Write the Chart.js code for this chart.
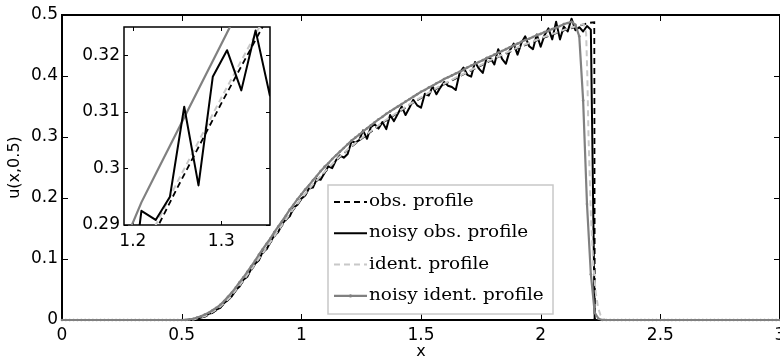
<!DOCTYPE html>
<html lang="en">
<head>
<meta charset="UTF-8" />
<title>u(x,0.5) profiles</title>
<script src="https://cdn.jsdelivr.net/npm/chart.js"></script>
<style>
  html, body { margin: 0; padding: 0; background: #fff; overflow: hidden; }
  #wrap { position: relative; width: 784px; height: 363px; }
  #main { position: absolute; left: 0; top: 0; }
  #inset { position: absolute; left: 70px; top: 20px; }
</style>
</head>
<body>
<div id="wrap">
  <canvas id="main" width="784" height="363"></canvas>
  <canvas id="inset" width="210" height="240"></canvas>
</div>
<script>
// noisy profiles live on a uniform grid of 187 nodes over [0, 3]
const gridStep = 3 / 186;

const noisyObs = [
  0, 0, 0, 0, 0, 0, 0, 0, 0, 0,
  0, 0, 0, 0, 0, 0, 0, 0, 0, 0,
  0, 0, 0, 0, 0, 0, 0, 0, 0, 0,
  0, 0, 0, 0,
  0.001, 0.002, 0.004, 0.006, 0.010, 0.012, 0.017, 0.020, 0.028, 0.033,
  0.039, 0.049, 0.055, 0.066, 0.071, 0.084, 0.092, 0.098, 0.112, 0.116,
  0.128, 0.139, 0.144, 0.157, 0.165, 0.170, 0.184, 0.189, 0.199, 0.204,
  0.216, 0.217, 0.231, 0.230, 0.241, 0.252, 0.249, 0.262, 0.270, 0.266,
  0.272, 0.2925, 0.2909, 0.295, 0.3109, 0.297, 0.3162, 0.3209, 0.3138, 0.3244,
  0.3129, 0.336, 0.326, 0.338, 0.350, 0.336, 0.348, 0.361, 0.352, 0.348,
  0.371, 0.368, 0.383, 0.370, 0.381, 0.390, 0.384, 0.382, 0.377, 0.405,
  0.414, 0.402, 0.399, 0.423, 0.412, 0.405, 0.430, 0.429, 0.419, 0.444,
  0.428, 0.420, 0.442, 0.453, 0.435, 0.454, 0.465, 0.449, 0.444, 0.468,
  0.448, 0.467, 0.478, 0.460, 0.489, 0.460, 0.481, 0.473, 0.494, 0.475,
  0.480, 0.473, 0.482, 0.476,
  0, 0, 0, 0, 0, 0, 0, 0, 0, 0,
  0, 0, 0, 0, 0, 0, 0, 0, 0, 0,
  0, 0, 0, 0, 0, 0, 0, 0, 0, 0,
  0, 0, 0, 0, 0, 0, 0, 0, 0, 0,
  0, 0, 0, 0, 0, 0, 0, 0, 0
];

const noisyIdent = [
  0, 0, 0, 0, 0, 0, 0, 0, 0, 0,
  0, 0, 0, 0, 0, 0, 0, 0, 0, 0,
  0, 0, 0, 0, 0, 0, 0, 0, 0, 0,
  0, 0, 0,
  0.001, 0.002, 0.004, 0.006, 0.009, 0.012, 0.016, 0.020, 0.025, 0.031,
  0.038, 0.045, 0.053, 0.062, 0.070, 0.079, 0.088, 0.097, 0.107, 0.116,
  0.125, 0.134, 0.144, 0.153, 0.162, 0.171, 0.181, 0.189, 0.198, 0.206,
  0.214, 0.221, 0.229, 0.236, 0.244, 0.251, 0.257, 0.264, 0.270, 0.276,
  0.282, 0.288, 0.294, 0.299, 0.304, 0.309, 0.314, 0.319, 0.324, 0.329,
  0.333, 0.338, 0.342, 0.346, 0.350, 0.354, 0.358, 0.362, 0.366, 0.370,
  0.374, 0.377, 0.381, 0.384, 0.388, 0.391, 0.395, 0.398, 0.401, 0.404,
  0.407, 0.410, 0.414, 0.417, 0.420, 0.423, 0.426, 0.429, 0.432, 0.435,
  0.438, 0.441, 0.444, 0.447, 0.450, 0.453, 0.456, 0.459, 0.461, 0.464,
  0.467, 0.469, 0.472, 0.474, 0.477, 0.479, 0.482, 0.485, 0.487, 0.489,
  0.484, 0.465, 0.360, 0.190, 0.075, 0.012, 0.002,
  0, 0, 0, 0, 0, 0, 0, 0, 0, 0,
  0, 0, 0, 0, 0, 0, 0, 0, 0, 0,
  0, 0, 0, 0, 0, 0, 0, 0, 0, 0,
  0, 0, 0, 0, 0, 0, 0, 0, 0, 0,
  0, 0, 0, 0, 0, 0, 0
];

// smooth profiles
const obsX = [0, 0.5, 0.55, 0.6, 0.65, 0.7, 0.75, 0.8, 0.85, 0.9, 0.95, 1.0, 1.05, 1.1, 1.15,
  1.2, 1.25, 1.3, 1.35, 1.4, 1.45, 1.5, 1.55, 1.6, 1.65, 1.7, 1.75, 1.8, 1.85, 1.9, 1.95,
  2.0, 2.05, 2.1, 2.15, 2.2, 2.224, 2.226, 3];
const obsU = [0, 0, 0.001, 0.006, 0.017, 0.035, 0.060, 0.087, 0.115, 0.144, 0.172, 0.198, 0.222, 0.243, 0.263,
  0.281, 0.2965, 0.3115, 0.326, 0.339, 0.352, 0.364, 0.376, 0.387, 0.397, 0.407, 0.417, 0.427, 0.436, 0.445, 0.453,
  0.461, 0.468, 0.475, 0.481, 0.487, 0.488, 0, 0];

const identX = [0, 0.5, 0.55, 0.6, 0.65, 0.7, 0.75, 0.8, 0.85, 0.9, 0.95, 1.0, 1.05, 1.1, 1.15,
  1.2, 1.25, 1.3, 1.35, 1.4, 1.45, 1.5, 1.55, 1.6, 1.65, 1.7, 1.75, 1.8, 1.85, 1.9, 1.95,
  2.0, 2.05, 2.1, 2.15, 2.18, 2.19, 2.195, 2.2, 2.21, 2.22, 2.23, 2.24, 2.25, 2.26, 2.27, 3];
const identU = [0, 0, 0.001, 0.007, 0.018, 0.036, 0.061, 0.088, 0.116, 0.145, 0.173, 0.199, 0.223, 0.244, 0.264,
  0.282, 0.2975, 0.3125, 0.327, 0.340, 0.353, 0.365, 0.377, 0.388, 0.398, 0.408, 0.418, 0.428, 0.437, 0.446, 0.454,
  0.462, 0.469, 0.476, 0.482, 0.485, 0.470, 0.400, 0.300, 0.170, 0.090, 0.045, 0.020, 0.008, 0.003, 0, 0];

const seriesNames = ['obs. profile', 'noisy obs. profile', 'ident. profile', 'noisy ident. profile'];
const xTicks = [0, 0.5, 1, 1.5, 2, 2.5, 3];
const yTicks = [0, 0.1, 0.2, 0.3, 0.4, 0.5];
const insetXTicks = [1.2, 1.3];
const insetYTicks = [0.29, 0.3, 0.31, 0.32];

const gridX = noisyObs.map((_, i) => i * gridStep);
const pts = (xs, ys) => ys.map((y, i) => ({ x: xs[i], y: y }));

const tickFont = { family: 'DejaVu Sans', size: 17 };
const titleFont = { family: 'DejaVu Sans', size: 16 };

function makeDatasets(inset) {
  return [
    { label: seriesNames[0], data: pts(obsX, obsU), borderColor: '#000', borderWidth: 1.8,
      borderDash: [6, 4], pointRadius: 0, order: 3 },
    { label: seriesNames[1], data: pts(gridX, noisyObs), borderColor: '#000', borderWidth: 2,
      borderJoinStyle: 'round', pointRadius: 0, order: inset ? 0 : 2 },
    { label: seriesNames[2], data: pts(identX, identU), borderColor: '#c8c8c8', borderWidth: 2,
      borderDash: [6, 4], pointRadius: 0, order: inset ? 2 : 1 },
    { label: seriesNames[3], data: pts(gridX, noisyIdent), borderColor: '#808080', borderWidth: 2.2,
      borderJoinStyle: 'round', pointRadius: inset ? 0 : 1.3, pointBackgroundColor: '#808080',
      pointBorderWidth: 0, order: inset ? 1 : 0 }
  ];
}

// MATLAB-like box with inward ticks
function boxPlugin(id, lw, len, white) {
  return {
    id: id,
    beforeDatasetsDraw(chart) {
      const { ctx, chartArea: a, scales: { x, y } } = chart;
      ctx.save();
      if (white) { ctx.fillStyle = '#fff'; ctx.fillRect(a.left, a.top, a.right - a.left, a.bottom - a.top); }
      ctx.strokeStyle = '#000';
      ctx.lineWidth = lw;
      ctx.strokeRect(a.left, a.top, a.right - a.left, a.bottom - a.top);
      ctx.lineWidth = 1;
      ctx.beginPath();
      x.ticks.forEach(t => {
        const p = Math.round(x.getPixelForValue(t.value)) + 0.5;
        ctx.moveTo(p, a.bottom); ctx.lineTo(p, a.bottom - len);
        ctx.moveTo(p, a.top); ctx.lineTo(p, a.top + len);
      });
      y.ticks.forEach(t => {
        const p = Math.round(y.getPixelForValue(t.value)) + 0.5;
        ctx.moveTo(a.left, p); ctx.lineTo(a.left + len, p);
        ctx.moveTo(a.right, p); ctx.lineTo(a.right - len, p);
      });
      ctx.stroke();
      ctx.restore();
    }
  };
}

const legendBox = {
  id: 'legendBox',
  afterDraw(chart) {
    const { ctx } = chart;
    const bx = 328, by = 185, bw = 225, bh = 129;
    ctx.save();
    ctx.fillStyle = '#fff';
    ctx.fillRect(bx, by, bw, bh);
    ctx.strokeStyle = '#c8c8c8';
    ctx.lineWidth = 1.5;
    ctx.strokeRect(bx, by, bw, bh);
    chart.data.datasets.forEach((ds, k) => {
      const cy = by + 17 + k * 31.3;
      ctx.strokeStyle = ds.borderColor;
      ctx.lineWidth = ds.borderWidth;
      ctx.setLineDash(ds.borderDash || []);
      ctx.beginPath();
      ctx.moveTo(bx + 6, cy);
      ctx.lineTo(bx + 39, cy);
      ctx.stroke();
      ctx.setLineDash([]);
      if (ds.pointRadius > 0) {
        ctx.fillStyle = ds.pointBackgroundColor;
        ctx.beginPath();
        ctx.arc(bx + 22.5, cy, 1.6, 0, Math.PI * 2);
        ctx.fill();
      }
      ctx.fillStyle = '#000';
      ctx.font = '16px "DejaVu Serif"';
      ctx.textBaseline = 'middle';
      ctx.save();
      ctx.translate(bx + 41, cy);
      ctx.scale(1.15, 1);
      ctx.fillText(ds.label, 0, 0);
      ctx.restore();
    });
    ctx.restore();
  }
};

function axis(min, max, ticks, pad, fit, title, titlePad) {
  return {
    type: 'linear', min: min, max: max,
    afterBuildTicks: s => { s.ticks = ticks.map(v => ({ value: v })); },
    afterFit: fit,
    grid: { display: false, drawTicks: false },
    border: { display: false },
    ticks: { color: '#000', font: tickFont, padding: pad, maxRotation: 0, autoSkip: false,
             callback: v => String(v) },
    title: title ? { display: true, text: title, color: '#000', font: titleFont, padding: titlePad }
                 : { display: false }
  };
}

new Chart(document.getElementById('main'), {
  type: 'line',
  data: { datasets: makeDatasets(false) },
  options: {
    responsive: false,
    animation: false,
    clip: false,
    layout: { padding: { top: 15, right: 2, left: 0, bottom: 0 } },
    plugins: { legend: { display: false }, tooltip: { enabled: false } },
    scales: {
      x: axis(0, 3, xTicks, 5,
        s => { s.height = 43; s.paddingLeft = 0; s.paddingRight = 0; }, 'x', { top: 0, bottom: 2 }),
      y: axis(0, 0.5, yTicks, 4,
        s => { s.width = 62; s.paddingTop = 0; s.paddingBottom = 0; }, 'u(x,0.5)', { top: 5, bottom: 0 })
    }
  },
  plugins: [boxPlugin('mainBox', 2, 6, false), legendBox]
});

new Chart(document.getElementById('inset'), {
  type: 'line',
  data: { datasets: makeDatasets(true) },
  options: {
    responsive: false,
    animation: false,
    layout: { padding: { top: 7, right: 10, left: 0, bottom: 0 } },
    plugins: { legend: { display: false }, tooltip: { enabled: false } },
    scales: {
      x: axis(1.19, 1.355, insetXTicks, 6,
        s => { s.height = 35; s.paddingLeft = 0; s.paddingRight = 0; }, null),
      y: axis(0.29, 0.325, insetYTicks, 4,
        s => { s.width = 54; s.paddingTop = 0; s.paddingBottom = 0; }, null)
    }
  },
  plugins: [boxPlugin('insetBox', 1.5, 4, true)]
});
</script>
</body>
</html>
